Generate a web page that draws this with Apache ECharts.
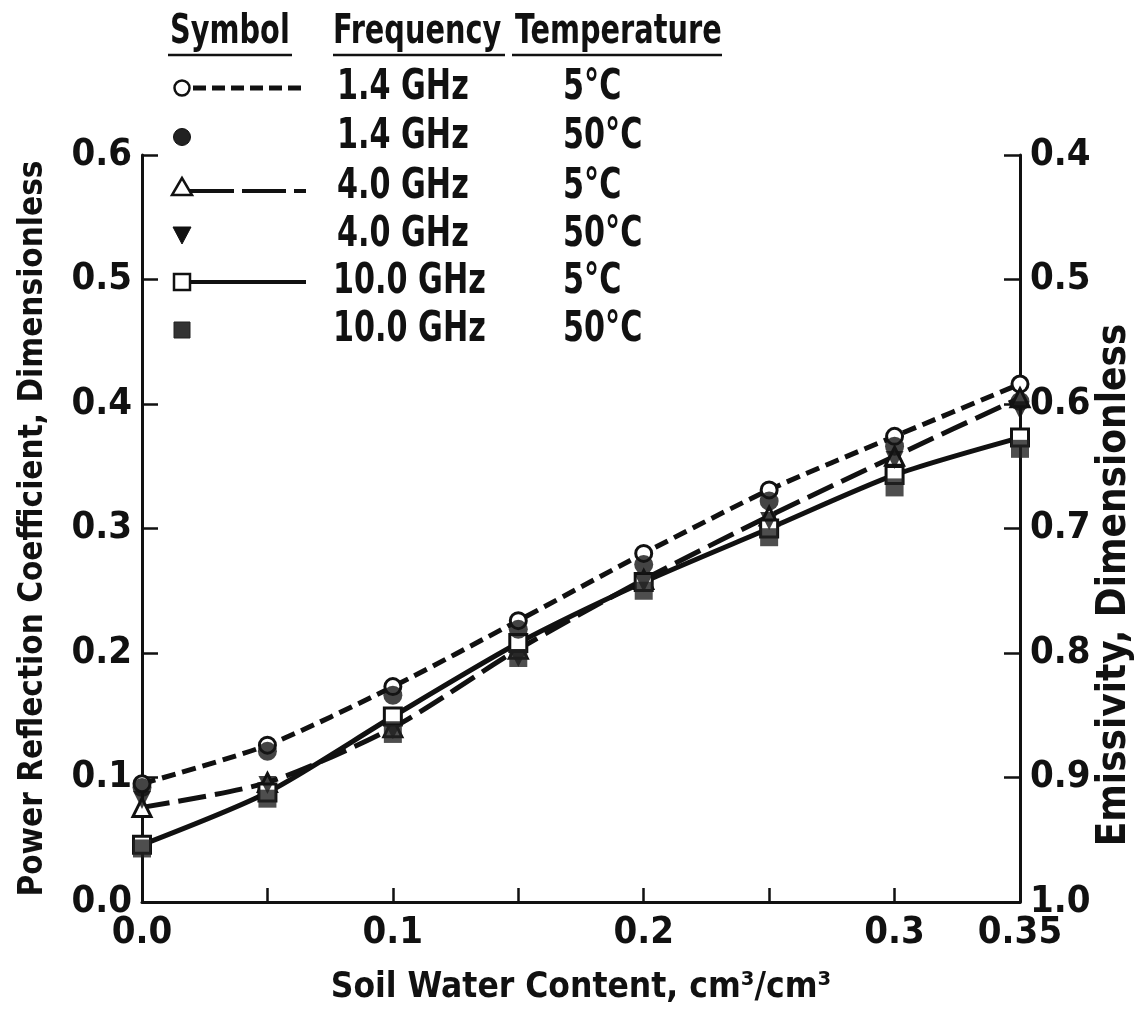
<!DOCTYPE html>
<html>
<head>
<meta charset="utf-8">
<title>Power reflection coefficient vs soil water content</title>
<script src="https://cdn.jsdelivr.net/npm/echarts@6/dist/echarts.min.js"></script>
<style>
  html, body { margin: 0; padding: 0; background: #fff; }
  #chart { width: 1136px; height: 1010px; }
</style>
</head>
<body>
<div id="chart"></div>
<script>
// Soil water content (cm3/cm3) at which reflectivity was computed
const waterContent = [0, 0.05, 0.1, 0.15, 0.2, 0.25, 0.3, 0.35];

// Power reflection coefficient for each frequency / temperature
const refl_1_4GHz_5C  = [0.095, 0.126, 0.173, 0.226, 0.280, 0.331, 0.374, 0.416];
const refl_1_4GHz_50C = [0.092, 0.121, 0.166, 0.219, 0.271, 0.322, 0.366, 0.402];
const refl_4_0GHz_5C  = [0.076, 0.096, 0.140, 0.203, 0.259, 0.310, 0.358, 0.405];
const refl_4_0GHz_50C = [0.082, 0.094, 0.138, 0.196, 0.256, 0.306, 0.355, 0.395];
const refl_10GHz_5C   = [0.046, 0.088, 0.149, 0.208, 0.257, 0.300, 0.343, 0.373];
const refl_10GHz_50C  = [0.043, 0.083, 0.135, 0.196, 0.250, 0.293, 0.333, 0.364];

// Axis tick labels
const xTickLabels = { '0': '0.0', '0.1': '0.1', '0.2': '0.2', '0.3': '0.3', '0.35': '0.35' };
const leftTickLabels = ['0.0', '0.1', '0.2', '0.3', '0.4', '0.5', '0.6'];
const rightTickLabels = ['0.4', '0.5', '0.6', '0.7', '0.8', '0.9', '1.0'];

// Legend table rows
const legendFreq = ['1.4 GHz', '1.4 GHz', '4.0 GHz', '4.0 GHz', '10.0 GHz', '10.0 GHz'];
const legendTemp = ['5°C', '50°C', '5°C', '50°C', '5°C', '50°C'];

const FONT = "'DejaVu Sans Condensed', 'Liberation Sans Narrow', 'Roboto', sans-serif";
const INK = '#111';

function pairs(values) {
  return waterContent.map((x, i) => [x, values[i]]);
}

const chart = echarts.init(document.getElementById('chart'), null, { renderer: 'canvas' });

const SHORT_DASH = [14, 7];
const LONG_DASH = [28, 9];

// Legend drawn as a small table in the upper-left; text is narrowed horizontally
const rowY = [88, 137, 187, 235, 282, 330];
const symX = 182;
const NARROW = 0.8;
const legendGraphics = [];
const headers = [
  { text: 'Symbol', x: 170, x1: 168, x2: 292 },
  { text: 'Frequency', x: 333, x1: 333, x2: 505 },
  { text: 'Temperature', x: 515, x1: 512, x2: 722 }
];
headers.forEach(h => {
  legendGraphics.push({
    type: 'text', x: h.x, y: 33, scaleX: NARROW,
    style: { text: h.text, font: 'bold 40px ' + FONT, fill: INK, textVerticalAlign: 'middle' }
  });
  legendGraphics.push({
    type: 'line', shape: { x1: h.x1, y1: 55, x2: h.x2, y2: 55 },
    style: { stroke: INK, lineWidth: 2.5 }
  });
});
legendFreq.forEach((f, i) => {
  legendGraphics.push({
    type: 'text', x: i >= 4 ? 333 : 337, y: rowY[i], scaleX: NARROW,
    style: { text: f, font: 'bold 42px ' + FONT, fill: INK, textVerticalAlign: 'middle' }
  });
  legendGraphics.push({
    type: 'text', x: 563, y: rowY[i], scaleX: NARROW,
    style: { text: legendTemp[i], font: 'bold 42px ' + FONT, fill: INK, textVerticalAlign: 'middle' }
  });
});
// legend line samples
legendGraphics.push({ type: 'line', shape: { x1: 193, y1: rowY[0], x2: 306, y2: rowY[0] },
  style: { stroke: INK, lineWidth: 5, lineDash: [13, 6] } });
legendGraphics.push({ type: 'line', shape: { x1: 190, y1: rowY[2] + 4, x2: 306, y2: rowY[2] + 4 },
  style: { stroke: INK, lineWidth: 4, lineDash: [44, 8] } });
legendGraphics.push({ type: 'line', shape: { x1: 190, y1: rowY[4], x2: 306, y2: rowY[4] },
  style: { stroke: INK, lineWidth: 4 } });
// legend symbols
legendGraphics.push({ type: 'circle', shape: { cx: symX, cy: rowY[0], r: 7.5 },
  style: { fill: '#fff', stroke: INK, lineWidth: 2.5 }, z: 10 });
legendGraphics.push({ type: 'circle', shape: { cx: symX, cy: rowY[1], r: 8.5 },
  style: { fill: '#222', stroke: INK, lineWidth: 1 }, z: 10 });
legendGraphics.push({ type: 'polygon',
  shape: { points: [[symX, rowY[2] - 9], [symX - 10, rowY[2] + 8], [symX + 10, rowY[2] + 8]] },
  style: { fill: '#fff', stroke: INK, lineWidth: 2.5 }, z: 10 });
legendGraphics.push({ type: 'polygon',
  shape: { points: [[symX - 9, rowY[3] - 8], [symX + 9, rowY[3] - 8], [symX, rowY[3] + 9]] },
  style: { fill: '#111', stroke: INK, lineWidth: 1 }, z: 10 });
legendGraphics.push({ type: 'rect', shape: { x: symX - 8, y: rowY[4] - 8, width: 16, height: 16 },
  style: { fill: '#fff', stroke: INK, lineWidth: 2.5 }, z: 10 });
legendGraphics.push({ type: 'rect', shape: { x: symX - 8, y: rowY[5] - 8, width: 16, height: 16 },
  style: { fill: '#333', stroke: '#222', lineWidth: 1 }, z: 10 });

// Right-hand axis title
legendGraphics.push({
  type: 'text', x: 1115, y: 585, rotation: Math.PI / 2,
  style: { text: 'Emissivity, Dimensionless', font: 'bold 40px ' + FONT, fill: INK,
           textAlign: 'center', textVerticalAlign: 'middle' }
});

const axisLine = { show: true, lineStyle: { color: INK, width: 3 } };
const tickStyle = { color: INK, width: 2.5 };
const labelFont = { fontFamily: FONT, fontWeight: 'bold', fontSize: 38, color: INK };

const option = {
  backgroundColor: '#fff',
  animation: false,
  grid: { left: 142, right: 116, top: 155, bottom: 108 },
  graphic: legendGraphics,
  xAxis: {
    type: 'value', min: 0, max: 0.35, interval: 0.05,
    name: 'Soil Water Content, cm³/cm³',
    nameLocation: 'middle', nameGap: 68,
    nameTextStyle: { fontFamily: FONT, fontWeight: 'bold', fontSize: 35, color: INK },
    axisLine: axisLine,
    axisTick: { show: true, inside: true, length: 14, lineStyle: tickStyle },
    axisLabel: Object.assign({}, labelFont, {
      margin: 12, showMinLabel: true, showMaxLabel: true,
      formatter: v => {
        const k = String(Math.round(v * 100) / 100);
        return xTickLabels[k] !== undefined ? xTickLabels[k] : '';
      }
    }),
    splitLine: { show: false }
  },
  yAxis: [
    {
      type: 'value', min: 0, max: 0.6, interval: 0.1, position: 'left',
      name: 'Power Reflection Coefficient, Dimensionless',
      nameLocation: 'middle', nameGap: 92, nameRotate: 90,
      nameTextStyle: { fontFamily: FONT, fontWeight: 'bold', fontSize: 33, color: INK },
      axisLine: axisLine,
      axisTick: { show: true, inside: true, length: 16, lineStyle: tickStyle },
      axisLabel: Object.assign({}, labelFont, {
        margin: 10,
        formatter: v => leftTickLabels[Math.round(v * 10)]
      }),
      splitLine: { show: false }
    },
    {
      type: 'value', min: 0.4, max: 1.0, interval: 0.1, position: 'right', inverse: true,
      axisLine: axisLine,
      axisTick: { show: true, inside: true, length: 16, lineStyle: tickStyle },
      axisLabel: Object.assign({}, labelFont, {
        margin: 10,
        formatter: v => rightTickLabels[Math.round(v * 10) - 4]
      }),
      splitLine: { show: false }
    }
  ],
  series: [
    {
      name: '1.4 GHz 5°C', type: 'line', data: pairs(refl_1_4GHz_5C),
      smooth: 0.25, symbol: 'circle', symbolSize: 16,
      lineStyle: { color: INK, width: 5, type: SHORT_DASH },
      itemStyle: { color: '#fff', borderColor: INK, borderWidth: 3 }, z: 3
    },
    {
      name: '4.0 GHz 5°C', type: 'line', data: pairs(refl_4_0GHz_5C),
      smooth: 0.25, symbol: 'triangle', symbolSize: 18,
      lineStyle: { color: INK, width: 5, type: LONG_DASH },
      itemStyle: { color: '#fff', borderColor: INK, borderWidth: 3 }, z: 3
    },
    {
      name: '10.0 GHz 5°C', type: 'line', data: pairs(refl_10GHz_5C),
      smooth: 0.25, symbol: 'rect', symbolSize: 17,
      lineStyle: { color: INK, width: 5 },
      itemStyle: { color: '#fff', borderColor: INK, borderWidth: 3 }, z: 3
    },
    {
      name: '1.4 GHz 50°C', type: 'scatter', data: pairs(refl_1_4GHz_50C),
      symbol: 'circle', symbolSize: 19,
      itemStyle: { color: '#151515' }, z: 4
    },
    {
      name: '4.0 GHz 50°C', type: 'scatter', data: pairs(refl_4_0GHz_50C),
      symbol: 'triangle', symbolRotate: 180, symbolSize: 18,
      itemStyle: { color: '#111' }, z: 4
    },
    {
      name: '10.0 GHz 50°C', type: 'scatter', data: pairs(refl_10GHz_50C),
      symbol: 'rect', symbolSize: 18,
      itemStyle: { color: '#222' }, z: 4
    }
  ]
};

chart.setOption(option);
</script>
</body>
</html>
